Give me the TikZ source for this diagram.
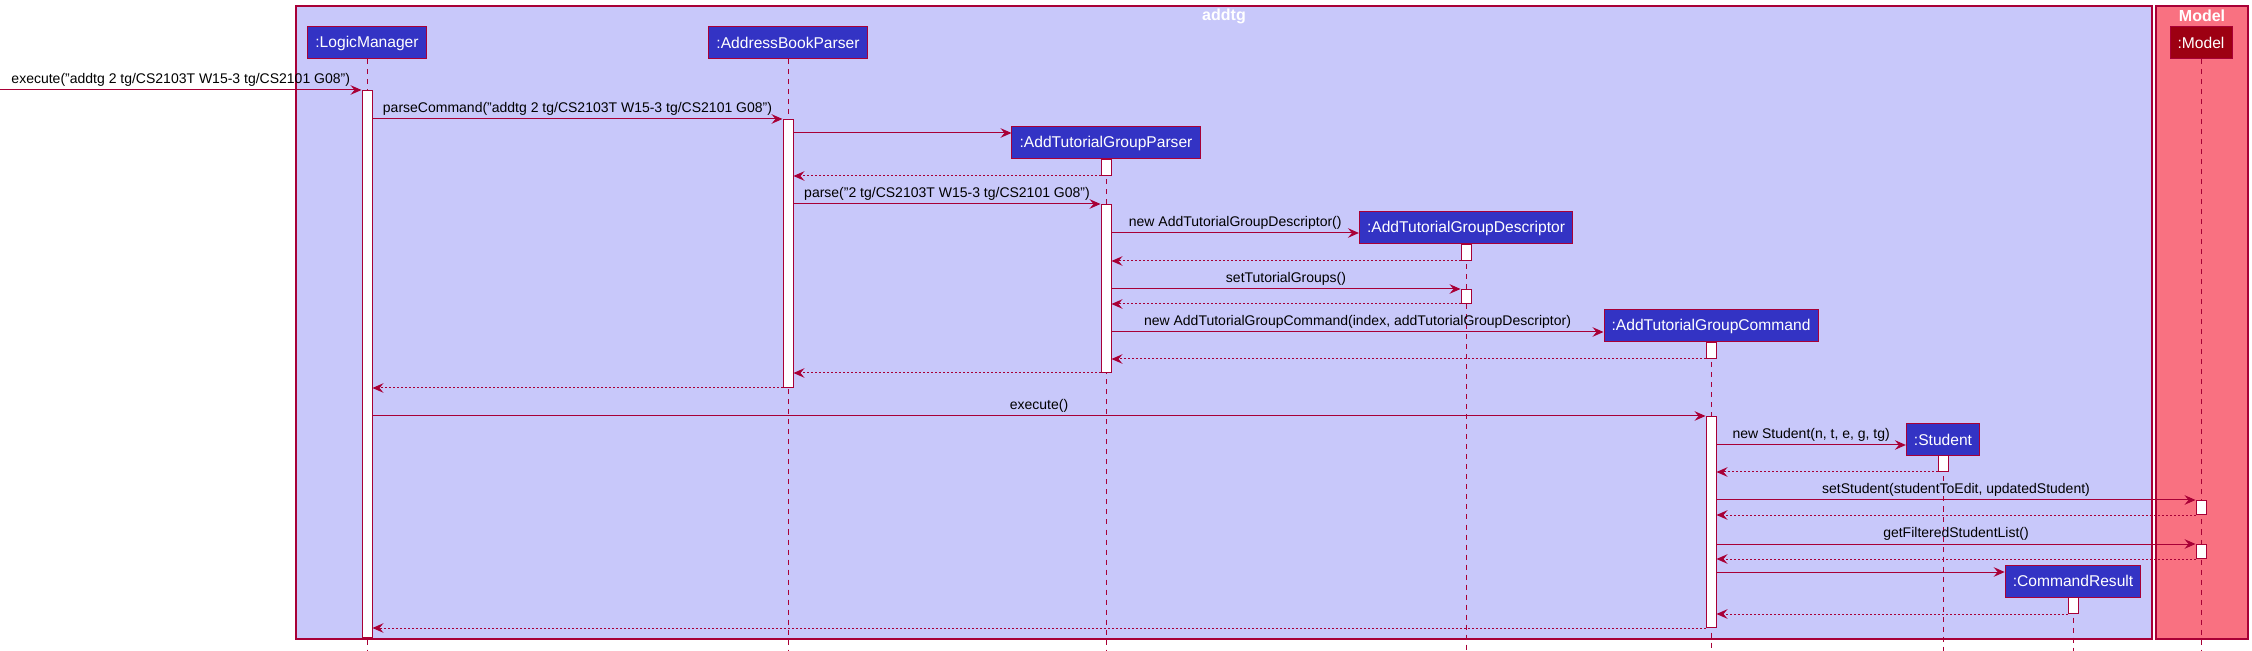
\documentclass[tikz,border=0pt]{standalone}
\usepackage{fontspec}
\setmainfont{Liberation Sans}
\usepackage{tikz}
\usetikzlibrary{arrows.meta, positioning}
\definecolor{umlred}{HTML}{A80036}
\definecolor{umlblue}{HTML}{3333C4}
\definecolor{logicbg}{HTML}{C8C8FA}
\definecolor{modelbg}{HTML}{F97181}
\definecolor{modelbox}{HTML}{9D0012}

% activation bar: name, x, top, bottom
\newcommand{\actbar}[4]{\node[act, minimum height={(#4-#3)*0.5pt}] (#1) at (#2,#3) {};}

\begin{document}
\begin{tikzpicture}[
  x=0.5pt, y=-0.5pt,
  >={Stealth[length=5.5pt, width=4.8pt, inset=2pt]},
  pbox/.style={draw=umlred, fill=umlblue, text=white, line width=0.5pt,
    minimum height=16pt, inner xsep=3.8pt, font=\fontsize{7.8}{9}\selectfont},
  mbox/.style={pbox, fill=modelbox},
  pkg/.style={draw=umlred, line width=0.6pt},
  ptitle/.style={text=white, font=\fontsize{8}{9}\selectfont\bfseries},
  life/.style={umlred, line width=0.5pt, dash pattern=on 2.5pt off 2.5pt},
  act/.style={draw=umlred, fill=white, line width=0.5pt, minimum width=5pt,
    inner sep=0pt, anchor=north},
  msg/.style={->, umlred, line width=0.5pt},
  ret/.style={->, umlred, line width=0.5pt, dash pattern=on 1pt off 1pt},
  lbl/.style={midway, above, inner sep=1.5pt, text=black,
    font=\fontsize{7}{8}\selectfont}
]
\useasboundingbox (0,0) rectangle (2252,651);

% ---- Packages ----
\draw[pkg, fill=logicbg] (296,6) rectangle (2152,639);
\node[ptitle] (addtgT) at (1224,16) {addtg};
\draw[pkg, fill=modelbg] (2156,6) rectangle (2248,639);
\node[ptitle] (modelT) at (2202,16) {Model};

% ---- Participants ----
\node[pbox] (lm) at (367,43) {:LogicManager};
\node[pbox] (abp) at (788,43) {:AddressBookParser};
\node[pbox] (atgp) at (1106,143) {:AddTutorialGroupParser};
\node[pbox] (atgd) at (1466,228) {:AddTutorialGroupDescriptor};
\node[pbox] (atgc) at (1711,326) {:AddTutorialGroupCommand};
\node[pbox] (stu) at (1943,440) {:Student};
\node[mbox] (model) at (2201,43) {:Model};
\node[pbox] (cr) at (2073,581) {:CommandResult};

% ---- Lifelines ----
\foreach \p in {lm, abp, atgp, atgd, atgc, stu, model, cr}
  \draw[life] (\p.south) -- (\p.south |- 0,651);

% ---- Activations ----
\actbar{lmA}{367}{90}{637}
\actbar{abpA}{788}{119}{387}
\actbar{atgpA1}{1106}{159}{175}
\actbar{atgpA2}{1106}{204}{372}
\actbar{atgdA1}{1466}{244}{260}
\actbar{atgdA2}{1466}{289}{303}
\actbar{atgcA1}{1711}{342}{358}
\actbar{atgcA2}{1711}{416}{627}
\actbar{stuA}{1943}{455}{471}
\actbar{modelA1}{2201}{500}{514}
\actbar{modelA2}{2201}{544}{558}
\actbar{crA}{2073}{597}{613}

% ---- Messages ----
\coordinate (ext) at (0,90);
\draw[msg] (ext) -- (lmA.north west)
  node[lbl] {execute("addtg 2 tg/CS2103T W15-3 tg/CS2101 G08")};
\draw[msg] (lmA.east |- abpA.north) -- (abpA.north west)
  node[lbl] {parseCommand("addtg 2 tg/CS2103T W15-3 tg/CS2101 G08")};
\draw[msg] (abpA.east |- 0,133) -- (atgp.west |- 0,133);
\draw[ret] (atgpA1.south west) -- (abpA.east |- atgpA1.south);
\draw[msg] (abpA.east |- atgpA2.north) -- (atgpA2.north west)
  node[lbl] {parse("2 tg/CS2103T W15-3 tg/CS2101 G08")};
\draw[msg] (atgpA2.east |- 0,233) -- (atgd.west |- 0,233)
  node[lbl] {new AddTutorialGroupDescriptor()};
\draw[ret] (atgdA1.south west) -- (atgpA2.east |- atgdA1.south);
\draw[msg] (atgpA2.east |- atgdA2.north) -- (atgdA2.north west)
  node[lbl] {setTutorialGroups()};
\draw[ret] (atgdA2.south west) -- (atgpA2.east |- atgdA2.south);
\draw[msg] (atgpA2.east |- 0,332) -- (atgc.west |- 0,332)
  node[lbl] {new AddTutorialGroupCommand(index, addTutorialGroupDescriptor)};
\draw[ret] (atgcA1.south west) -- (atgpA2.east |- atgcA1.south);
\draw[ret] (atgpA2.south west) -- (abpA.east |- atgpA2.south);
\draw[ret] (abpA.south west) -- (lmA.east |- abpA.south);

\draw[msg] (lmA.east |- atgcA2.north) -- (atgcA2.north west)
  node[lbl] {execute()};
\draw[msg] (atgcA2.east |- 0,445) -- (stu.west |- 0,445)
  node[lbl] {new Student(n, t, e, g, tg)};
\draw[ret] (stuA.south west) -- (atgcA2.east |- stuA.south);
\draw[msg] (atgcA2.east |- modelA1.north) -- (modelA1.north west)
  node[lbl] {setStudent(studentToEdit, updatedStudent)};
\draw[ret] (modelA1.south west) -- (atgcA2.east |- modelA1.south);
\draw[msg] (atgcA2.east |- modelA2.north) -- (modelA2.north west)
  node[lbl] {getFilteredStudentList()};
\draw[ret] (modelA2.south west) -- (atgcA2.east |- modelA2.south);
\draw[msg] (atgcA2.east |- 0,572) -- (cr.west |- 0,572);
\draw[ret] (crA.south west) -- (atgcA2.east |- crA.south);
\draw[ret] (atgcA2.south west) -- (lmA.east |- atgcA2.south);

\end{tikzpicture}
\end{document}
